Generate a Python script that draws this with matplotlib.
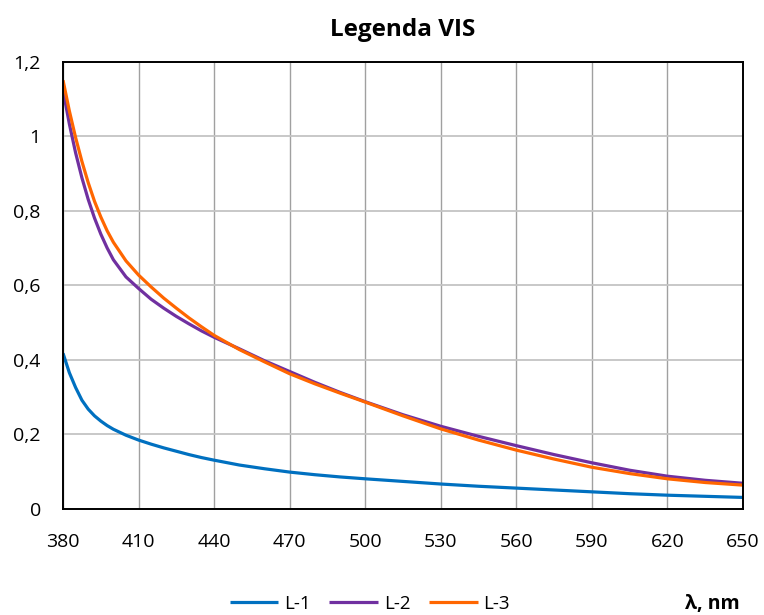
import matplotlib
matplotlib.use("Agg")
import matplotlib.pyplot as plt
from matplotlib.ticker import FuncFormatter

plt.rcParams['font.family'] = ['Open Sans', 'DejaVu Sans']

# Wavelength grid (nm) and absorbance for each sample
wavelength = [380, 382.5, 385, 387.5, 390, 392.5, 395, 397.5, 400, 405, 410,
              415, 420, 425, 430, 435, 440, 450, 460, 470, 480, 490, 500,
              515, 530, 545, 560, 575, 590, 605, 620, 635, 650]

l1 = [0.418, 0.366, 0.326, 0.292, 0.268, 0.250, 0.236, 0.224, 0.214, 0.198,
      0.185, 0.174, 0.164, 0.155, 0.146, 0.138, 0.131, 0.118, 0.108, 0.099,
      0.092, 0.086, 0.081, 0.074, 0.067, 0.061, 0.056, 0.051, 0.046, 0.041,
      0.037, 0.034, 0.031]

l2 = [1.124, 1.034, 0.956, 0.889, 0.831, 0.781, 0.738, 0.701, 0.669, 0.623,
      0.592, 0.563, 0.539, 0.517, 0.497, 0.478, 0.461, 0.430, 0.398, 0.369,
      0.340, 0.313, 0.288, 0.253, 0.222, 0.195, 0.170, 0.146, 0.124, 0.104,
      0.088, 0.077, 0.069]

l3 = [1.151, 1.069, 0.997, 0.933, 0.876, 0.826, 0.784, 0.747, 0.716, 0.666,
      0.628, 0.596, 0.566, 0.539, 0.513, 0.489, 0.466, 0.428, 0.395, 0.363,
      0.336, 0.311, 0.287, 0.250, 0.215, 0.185, 0.158, 0.134, 0.112, 0.095,
      0.081, 0.071, 0.064]

x_ticks = [380, 410, 440, 470, 500, 530, 560, 590, 620, 650]
y_ticks = [0, 0.2, 0.4, 0.6, 0.8, 1.0, 1.2]

series_labels = ["L-1", "L-2", "L-3"]
series_colors = ["#0070C0", "#7030A0", "#FF6600"]


def comma_decimal(v, pos):
    if abs(v) < 1e-9:
        return "0"
    s = f"{v:.1f}".rstrip('0').rstrip('.')
    return s.replace('.', ',')


fig = plt.figure(figsize=(7.64, 6.15), dpi=100)
ax = fig.add_axes([0.0825, 0.1724, 0.89, 0.7268])

for ys, lab, col in zip([l1, l2, l3], series_labels, series_colors):
    ax.plot(wavelength, ys, color=col, lw=2.3, label=lab,
            solid_capstyle='butt', solid_joinstyle='round')

ax.set_xlim(380, 650)
ax.set_ylim(0, 1.2)
ax.set_xticks(x_ticks)
ax.set_yticks(y_ticks)
ax.yaxis.set_major_formatter(FuncFormatter(comma_decimal))

ax.grid(axis='y', color='#C4C4C4', lw=1.3)
ax.grid(axis='x', color='#A0A0A0', lw=1.0)
ax.set_axisbelow(True)
for s in ax.spines.values():
    s.set_color('black')
    s.set_linewidth(1.4)

ax.tick_params(length=0, labelsize=14, colors='black')
ax.tick_params(axis='x', pad=17)
ax.tick_params(axis='y', pad=16)

ax.set_title("Legenda VIS", fontsize=17.5, fontweight='bold', pad=19)

fig.legend(loc='center', bbox_to_anchor=(0.484, 0.018), ncol=3, frameon=False,
           fontsize=13.5, handlelength=2.6, handletextpad=0.3,
           columnspacing=1.0, borderpad=0)

fig.text(0.968, 0.018, "λ, nm", ha='right', va='center', fontsize=14,
         fontweight='bold')

fig.savefig("out.png", dpi=100)
